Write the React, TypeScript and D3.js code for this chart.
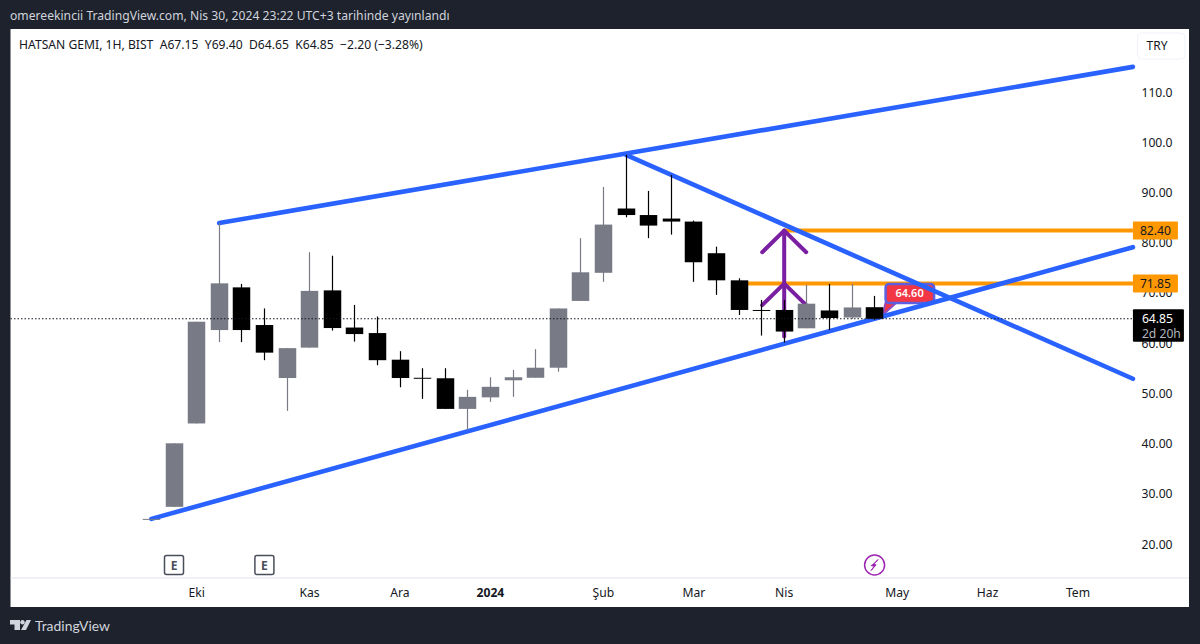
import React, { useEffect, useRef } from "react";
import * as d3 from "d3";

// weekly candles, index 0 = first full week on the chart
const candleIndex = [-1, 0, 1, 2, 3, 4, 5, 6, 7, 8, 9, 10, 11, 12, 13, 14, 15, 16, 17, 18, 19, 20, 21, 22, 23, 24, 25, 26, 27, 28, 29, 30, 31];
const opens = [25, 27.4, 44.0, 62.6, 71.1, 63.6, 53.05, 59.1, 70.5, 63.1, 62.0, 56.7, 53.1, 53.0, 46.9, 49.2, 52.6, 53.1, 55.1, 68.4, 74.0, 86.8, 85.5, 84.8, 84.2, 77.9, 72.5, 66.6, 66.6, 62.95, 66.5, 65.1, 67.15];
const closes = [25, 40.05, 64.26, 71.9, 62.6, 58.1, 59.0, 70.4, 63.0, 61.8, 56.6, 53.05, 53.05, 46.9, 49.3, 51.3, 53.2, 55.1, 66.9, 74.1, 83.6, 85.5, 83.4, 84.2, 76.1, 72.5, 66.6, 66.55, 62.3, 67.85, 65.0, 67.1, 64.85];
const highs = [25, 40.05, 64.26, 83.9, 71.8, 66.9, 59.0, 78.1, 77.4, 67.6, 65.3, 58.4, 55.0, 55.0, 50.7, 53.2, 54.65, 58.8, 66.9, 80.9, 91.1, 97.5, 90.3, 93.5, 84.4, 79.2, 72.9, 68.6, 68.6, 71.6, 71.8, 71.8, 69.4];
const lows = [25, 27.4, 44.0, 60.2, 60.2, 56.6, 46.5, 59.1, 62.5, 60.3, 55.6, 51.2, 48.9, 46.9, 42.7, 48.3, 49.3, 53.1, 54.3, 68.4, 72.2, 85.05, 80.9, 81.6, 72.2, 69.6, 65.6, 61.5, 60.1, 62.95, 62.6, 64.8, 64.65];

const priceTicks = [20, 30, 40, 50, 60, 70, 80, 90, 100, 110];
const priceTickLabels = ["20.00", "30.00", "40.00", "50.00", "60.00", "70.00", "80.00", "90.00", "100.0", "110.0"];
const timeTickIndex = [1, 6, 10, 14, 19, 23, 27, 32, 36, 40];
const timeTickLabels = ["Eki", "Kas", "Ara", "2024", "Şub", "Mar", "Nis", "May", "Haz", "Tem"];

const lastIndex = 42.43; // right edge of the plot
const trendUpperIdx = [2, lastIndex];
const trendUpperVal = [83.9, 115];
const trendLowerIdx = [-1, lastIndex];
const trendLowerVal = [25, 79.1];
const trendDownIdx = [20, lastIndex];
const trendDownVal = [97.5, 52.9];

const levels = [82.4, 71.85];
const levelStartIdx = [27, 25];
const arrowApex = [82.4, 71.85];
const arrowShaftLow = 61.3;
const earningsIdx = [0, 4];
const lastPrice = 64.85;
const calloutPrice = 64.6;

const UP = "#787b86";
const DOWN = "#000000";
const BLUE = "#2962ff";
const ORANGE = "#ff9800";
const PURPLE = "#7b1fa2";
const DARK = "#1e222d";
const TEXT = "#131722";
const FONT = "'Noto Sans', sans-serif";
const SMALL = 12.15;

export default function App() {
  const svgRef = useRef<SVGSVGElement>(null);

  useEffect(() => {
    document.body.style.margin = "0";
    const svg = d3.select(svgRef.current);
    svg.selectAll("*").remove();
    svg.attr("width", 1200).attr("height", 644).style("display", "block").style("font-family", FONT);

    const x = d3.scaleLinear().domain([0, 40]).range([174, 1078]);
    const y = d3.scaleLinear().domain([20, 110]).range([544, 92]);
    const plotRight = x(lastIndex);

    svg.append("rect").attr("width", 1200).attr("height", 644).attr("fill", DARK);
    svg.append("rect").attr("x", 10.5).attr("y", 29).attr("width", 1178.5).attr("height", 578).attr("fill", "#fff");
    svg.append("line").attr("x1", 10.5).attr("x2", 1189).attr("y1", 578).attr("y2", 578).attr("stroke", "#e0e3eb");

    // header
    svg.append("text").attr("x", 10).attr("y", 20).attr("fill", "#d1d4dc").attr("font-size", SMALL)
      .text("omereekincii TradingView.com, Nis 30, 2024 23:22 UTC+3 tarihinde yayınlandı");
    svg.append("text").attr("x", 19).attr("y", 49).attr("fill", TEXT).attr("font-size", SMALL).attr("xml:space", "preserve")
      .text("HATSAN GEMI, 1H, BIST  A67.15  Y69.40  D64.65  K64.85  −2.20 (−3.28%)");

    // orange levels
    levels.forEach((lv, i) => {
      svg.append("line").attr("x1", x(levelStartIdx[i])).attr("x2", plotRight).attr("y1", y(lv)).attr("y2", y(lv))
        .attr("stroke", ORANGE).attr("stroke-width", 4);
    });

    // purple arrow
    const arrowX = x(27);
    const armDx = 22;
    const armDv = 4.3;
    const arrow = d3.line<[number, number]>().x((d) => d[0]).y((d) => d[1]);
    svg.append("line").attr("x1", arrowX).attr("x2", arrowX).attr("y1", y(arrowApex[0])).attr("y2", y(arrowShaftLow))
      .attr("stroke", PURPLE).attr("stroke-width", 4).attr("stroke-linecap", "round");
    arrowApex.forEach((a) => {
      svg.append("path")
        .attr("d", arrow([[arrowX - armDx, y(a - armDv)], [arrowX, y(a)], [arrowX + armDx, y(a - armDv)]]))
        .attr("fill", "none").attr("stroke", PURPLE).attr("stroke-width", 4)
        .attr("stroke-linecap", "round").attr("stroke-linejoin", "round");
    });

    // callout with the low price, sits under the trend lines
    const cx = x(31);
    const calloutY = y(69.9);
    svg.append("path")
      .attr("d", `M${cx + 8},${y(calloutPrice + 1)} L${cx + 11},${calloutY + 9} L${cx + 22},${calloutY + 9} Z`)
      .attr("fill", "#f23645").attr("stroke", "#8e4cc0").attr("stroke-width", 2);
    svg.append("rect").attr("x", cx + 11).attr("y", calloutY - 9.5).attr("width", 48.5).attr("height", 19).attr("rx", 3.5)
      .attr("fill", "#f23645").attr("stroke", "#5b5fe0").attr("stroke-width", 2.5);
    svg.append("text").attr("x", cx + 35).attr("y", calloutY + 4).attr("text-anchor", "middle")
      .attr("fill", "#fff").attr("font-size", 11).attr("font-weight", 600).text(d3.format(".2f")(calloutPrice));

    // trend lines
    const trends: [number[], number[]][] = [
      [trendUpperIdx, trendUpperVal],
      [trendLowerIdx, trendLowerVal],
      [trendDownIdx, trendDownVal],
    ];
    trends.forEach(([ix, vals]) => {
      svg.append("line").attr("x1", x(ix[0])).attr("x2", x(ix[1])).attr("y1", y(vals[0])).attr("y2", y(vals[1]))
        .attr("stroke", BLUE).attr("stroke-width", 4.6).attr("stroke-linecap", "round");
    });

    // candles go over the drawings
    const bodyW = 17.5;
    const candles = svg.append("g");
    candleIndex.forEach((idx, i) => {
      const color = closes[i] >= opens[i] ? UP : DOWN;
      const top = y(Math.max(opens[i], closes[i]));
      const bottom = y(Math.min(opens[i], closes[i]));
      const cxw = Math.floor(x(idx)) + 0.5;
      candles.append("line").attr("x1", cxw).attr("x2", cxw).attr("y1", y(highs[i])).attr("y2", y(lows[i]))
        .attr("stroke", color).attr("stroke-width", 1.2);
      candles.append("rect").attr("x", cxw - bodyW / 2).attr("width", bodyW).attr("y", top)
        .attr("height", Math.max(bottom - top, 1)).attr("fill", color);
    });

    // last price dotted line
    svg.append("line").attr("x1", 10.5).attr("x2", plotRight).attr("y1", y(lastPrice)).attr("y2", y(lastPrice))
      .attr("stroke", "#131722").attr("stroke-dasharray", "1.5 2");

    // price scale
    const priceLabels = svg.append("g");
    priceTicks.forEach((t, i) => {
      priceLabels.append("text").attr("x", 1157).attr("y", y(t) + 4.5).attr("text-anchor", "middle")
        .attr("fill", TEXT).attr("font-size", SMALL).text(priceTickLabels[i]);
    });
    levels.forEach((lv) => {
      svg.append("rect").attr("x", plotRight).attr("y", y(lv) - 9).attr("width", 45).attr("height", 18).attr("rx", 1).attr("fill", ORANGE);
      svg.append("text").attr("x", plotRight + 22.5).attr("y", y(lv) + 4.5).attr("text-anchor", "middle")
        .attr("fill", TEXT).attr("font-size", SMALL).text(d3.format(".2f")(lv));
    });
    svg.append("rect").attr("x", plotRight).attr("y", y(lastPrice) - 9.5).attr("width", 51).attr("height", 32.5).attr("rx", 1).attr("fill", "#000");
    svg.append("text").attr("x", plotRight + 9).attr("y", y(lastPrice) + 4.5).attr("fill", "#fff").attr("font-size", SMALL).text(d3.format(".2f")(lastPrice));
    svg.append("text").attr("x", plotRight + 9).attr("y", y(lastPrice) + 19).attr("fill", "#b2b5be").attr("font-size", SMALL).text("2d 20h");

    svg.append("rect").attr("x", 1137.5).attr("y", 33).attr("width", 47.5).attr("height", 26).attr("rx", 4)
      .attr("fill", "#fff").attr("stroke", "#f0f3fa");
    svg.append("text").attr("x", 1157).attr("y", 50).attr("text-anchor", "middle").attr("fill", TEXT).attr("font-size", 12).text("TRY");

    // time scale
    timeTickIndex.forEach((t, i) => {
      svg.append("text").attr("x", x(t)).attr("y", 597).attr("text-anchor", "middle").attr("fill", TEXT)
        .attr("font-size", SMALL).attr("font-weight", timeTickLabels[i] === "2024" ? 700 : 400).text(timeTickLabels[i]);
    });

    // earnings and dividend markers
    earningsIdx.forEach((idx) => {
      svg.append("rect").attr("x", x(idx) - 9.5).attr("y", 555.5).attr("width", 19).attr("height", 19).attr("rx", 2)
        .attr("fill", "#fff").attr("stroke", "#4a4e5a").attr("stroke-width", 1.5);
      svg.append("text").attr("x", x(idx)).attr("y", 569.5).attr("text-anchor", "middle").attr("fill", "#4a4e5a")
        .attr("font-size", 12).attr("font-weight", 700).text("E");
    });
    const boltX = x(31);
    svg.append("circle").attr("cx", boltX).attr("cy", 565).attr("r", 10).attr("fill", "#fff").attr("stroke", "#9c27b0").attr("stroke-width", 1.5);
    svg.append("path").attr("transform", `translate(${boltX},565)`)
      .attr("d", "M3.5,-5.5 L-1.5,-0.6 L1.5,-0.2 L-3.5,5.5 L-0.4,1.2 L-3.5,0.6 L-0.4,-1.2 Z")
      .attr("fill", "#9c27b0").attr("stroke", "#9c27b0").attr("stroke-width", 1);

    // footer logo
    const logo = svg.append("g").attr("transform", "translate(10,620)").attr("fill", "#d1d4dc");
    logo.append("path").attr("d", "M0,0 H10 V10 H4.5 V4.5 H0 Z");
    logo.append("circle").attr("cx", 12.5).attr("cy", 2.2).attr("r", 2.2);
    logo.append("path").attr("d", "M16.5,0 H21 L16,10 H11 Z");
    svg.append("text").attr("x", 35).attr("y", 630.5).attr("fill", "#d1d4dc").attr("font-size", 13.9)
      .attr("font-family", "Lato, sans-serif").text("TradingView");
  }, []);

  return <svg ref={svgRef}></svg>;
}
